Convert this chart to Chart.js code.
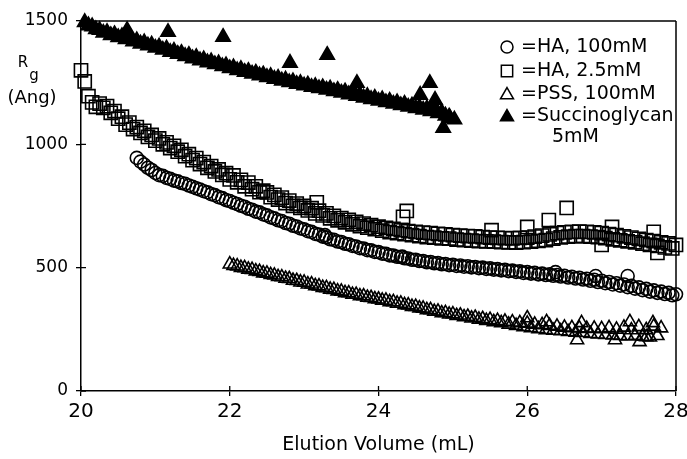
<!DOCTYPE html>
<html>
<head>
<meta charset="utf-8">
<script src="https://cdn.jsdelivr.net/npm/chart.js@4/dist/chart.umd.min.js"></script>
<style>
  html, body { margin: 0; padding: 0; background: #fff; }
  #wrap { width: 687px; height: 459px; }
</style>
</head>
<body>
<div id="wrap"><canvas id="chart" width="687" height="459"></canvas></div>
<script>
// Elution volume sampling grid (mL)
const volume = [
  20.00,20.05,20.10,20.15,20.20,20.25,20.30,20.35,20.40,20.45,
  20.50,20.55,20.60,20.65,20.70,20.75,20.80,20.85,20.90,20.95,
  21.00,21.05,21.10,21.15,21.20,21.25,21.30,21.35,21.40,21.45,
  21.50,21.55,21.60,21.65,21.70,21.75,21.80,21.85,21.90,21.95,
  22.00,22.05,22.10,22.15,22.20,22.25,22.30,22.35,22.40,22.45,
  22.50,22.55,22.60,22.65,22.70,22.75,22.80,22.85,22.90,22.95,
  23.00,23.05,23.10,23.15,23.20,23.25,23.30,23.35,23.40,23.45,
  23.50,23.55,23.60,23.65,23.70,23.75,23.80,23.85,23.90,23.95,
  24.00,24.05,24.10,24.15,24.20,24.25,24.30,24.35,24.40,24.45,
  24.50,24.55,24.60,24.65,24.70,24.75,24.80,24.85,24.90,24.95,
  25.00,25.05,25.10,25.15,25.20,25.25,25.30,25.35,25.40,25.45,
  25.50,25.55,25.60,25.65,25.70,25.75,25.80,25.85,25.90,25.95,
  26.00,26.05,26.10,26.15,26.20,26.25,26.30,26.35,26.40,26.45,
  26.50,26.55,26.60,26.65,26.70,26.75,26.80,26.85,26.90,26.95,
  27.00,27.05,27.10,27.15,27.20,27.25,27.30,27.35,27.40,27.45,
  27.50,27.55,27.60,27.65,27.70,27.75,27.80,27.85,27.90,27.95,
  28.00
];

// HA, 2.5 mM: Rg (Angstrom), starting at volume[0]
const haLowStart = 0;
const haLowRg = [
  1300,1255,1195,1170,1152,1165,1148,1155,1128,1135,
  1104,1112,1080,1088,1062,1070,1046,1055,1030,1038,
  1015,1024,1000,1008,985,994,970,978,952,960,
  936,944,920,928,905,912,890,898,876,883,
  858,874,846,856,830,845,818,830,806,812,
  805,786,795,776,784,762,772,751,760,742,
  750,732,741,720,731,712,720,700,710,692,
  701,684,694,676,686,668,679,662,672,656,
  666,650,661,644,657,640,652,636,648,632,
  645,628,642,624,640,622,637,619,635,618,
  632,614,630,612,628,610,627,608,624,607,
  622,606,621,604,620,603,619,602,621,604,
  622,606,626,609,630,612,635,618,640,623,
  643,626,645,628,646,628,645,626,643,624,
  640,620,636,615,632,611,627,607,622,603,
  617,597,612,592,608,588,603,582,598,578,
  592
];
const haLowExtraVol = [23.17, 24.38, 24.33, 25.52, 26.00, 26.29, 26.53, 27.14, 27.70, 27.00, 27.75];
const haLowExtraRg  = [765, 730, 706, 652, 665, 693, 742, 665, 645, 592, 560];

// HA, 100 mM: Rg (Angstrom), starting at volume[15]
const haHighStart = 15;
const haHighRg = [
  945,930,918,905,896,
  884,875,872,864,860,853,850,843,840,833,
  828,822,817,810,806,798,794,786,782,774,
  770,763,758,751,747,739,735,727,724,716,
  712,704,700,692,689,681,678,670,667,659,
  656,648,645,637,634,626,623,615,613,606,
  604,597,595,588,586,579,578,571,570,564,
  563,557,556,550,549,544,543,538,537,532,
  532,527,527,522,523,518,519,514,515,510,
  512,507,509,504,506,501,503,498,500,495,
  497,492,494,489,491,486,488,483,485,479,
  482,476,479,473,476,470,473,467,470,464,
  467,460,463,456,459,452,455,447,451,442,
  447,437,442,432,437,427,432,421,426,415,
  420,409,414,403,408,398,403,393,398,388,
  392
];
const haHighExtraVol = [23.28, 24.32, 26.38, 26.92, 27.35];
const haHighExtraRg  = [632, 545, 482, 466, 466];

// PSS, 100 mM: Rg (Angstrom), starting at volume[40]
const pssStart = 40;
const pssRg = [
  514,508,506,500,499,493,492,486,484,478,
  477,471,469,463,462,456,455,448,447,441,
  440,433,433,426,425,419,418,412,411,405,
  404,398,397,391,391,385,385,379,378,373,
  372,367,367,361,361,355,355,349,348,342,
  342,336,335,329,329,322,323,316,317,311,
  312,305,307,300,302,295,298,290,293,285,
  289,280,285,276,282,270,279,265,276,260,
  274,256,270,252,268,248,265,245,262,243,
  258,240,256,237,255,236,253,232,254,230,
  252,228,256,226,250,224,258,222,247,225,
  260,221,248,218,262,224,255
];
const pssExtraVol = [26.00, 26.26, 26.73, 27.38, 27.69, 26.67, 27.18, 27.51, 27.60];
const pssExtraRg  = [296, 280, 276, 280, 276, 207, 207, 199, 219];

// Succinoglycan, 5 mM: Rg (Angstrom), starting at volume[1]
const succStart = 1;
const succRg = [
  1495,1482,1478,1466,1463,1452,1455,1442,1446,
  1434,1438,1426,1430,1417,1421,1408,1413,1400,1404,
  1391,1396,1383,1388,1374,1379,1366,1370,1357,1362,
  1348,1353,1340,1344,1332,1336,1324,1328,1316,1320,
  1308,1312,1300,1305,1293,1297,1286,1290,1279,1283,
  1272,1276,1265,1269,1258,1262,1251,1255,1244,1248,
  1238,1242,1232,1236,1227,1231,1221,1226,1215,1220,
  1209,1214,1202,1208,1196,1201,1189,1195,1183,1188,
  1176,1182,1170,1176,1164,1170,1158,1164,1152,1157,
  1146,1151,1140,1145,1134,1138,1126,1130,1116,1112
];
const succExtraVol = [20.62, 21.17, 21.91, 22.81, 23.31, 23.71, 24.69, 24.56, 24.76, 24.87, 24.96, 25.02];
const succExtraRg  = [1463, 1455, 1435, 1330, 1362, 1248, 1248, 1200, 1180, 1066, 1107, 1100];

// Axis ticks
const volumeTicks = [20, 22, 24, 26, 28];
const rgTicks = [0, 500, 1000, 1500];

// Legend entries
const legendLabels = ['=HA, 100mM', '=HA, 2.5mM', '=PSS, 100mM', '=Succinoglycan'];
const legendNote = '5mM';

function toPoints(start, values, extraVol, extraRg) {
  const pts = values.map((rg, i) => ({ x: volume[start + i], y: rg }));
  extraVol.forEach((v, i) => pts.push({ x: v, y: extraRg[i] }));
  return pts;
}

const FONT = "'DejaVu Sans', 'Liberation Sans', sans-serif";

function drawMarker(ctx, style, x, y, r, filled) {
  ctx.beginPath();
  if (style === 'circle') {
    ctx.arc(x, y, r, 0, Math.PI * 2);
  } else if (style === 'rect') {
    const s = r * Math.SQRT1_2;
    ctx.rect(x - s, y - s, 2 * s, 2 * s);
  } else {
    ctx.moveTo(x, y - r);
    ctx.lineTo(x + r * Math.sin(Math.PI * 2 / 3), y - r * Math.cos(Math.PI * 2 / 3));
    ctx.lineTo(x + r * Math.sin(Math.PI * 4 / 3), y - r * Math.cos(Math.PI * 4 / 3));
    ctx.closePath();
  }
  ctx.fillStyle = filled ? '#000' : '#fff';
  ctx.fill();
  ctx.lineWidth = 1.5;
  ctx.strokeStyle = '#000';
  ctx.stroke();
}

// Frame, crossing tick marks, axis label and in-plot legend
const decorations = {
  id: 'decorations',
  afterDraw(chart) {
    const { ctx, chartArea: a, scales } = chart;
    ctx.save();
    ctx.strokeStyle = '#000';
    ctx.lineWidth = 1.5;
    ctx.beginPath();
    ctx.moveTo(a.left, a.top); ctx.lineTo(a.right, a.top);
    ctx.moveTo(a.right, a.top); ctx.lineTo(a.right, a.bottom);
    ctx.stroke();
    // inner halves of the tick marks
    ctx.lineWidth = 1.3;
    ctx.beginPath();
    volumeTicks.forEach(v => {
      const px = scales.x.getPixelForValue(v);
      ctx.moveTo(px, a.bottom); ctx.lineTo(px, a.bottom - 5);
    });
    rgTicks.forEach(v => {
      const py = scales.y.getPixelForValue(v);
      ctx.moveTo(a.left, py); ctx.lineTo(a.left + 5, py);
    });
    ctx.stroke();

    // y axis label: R with subscript g, then unit
    ctx.fillStyle = '#000';
    ctx.textAlign = 'center';
    ctx.textBaseline = 'middle';
    ctx.font = '15px ' + FONT;
    ctx.fillText('R', 23, 63);
    ctx.fillText('g', 34, 76);
    ctx.font = '18px ' + FONT;
    ctx.fillText('(Ang)', 32, 98);

    // legend, clipped by the frame
    ctx.save();
    ctx.beginPath();
    ctx.rect(a.left, a.top, a.right - a.left, a.bottom - a.top);
    ctx.clip();
    const styles = [['circle', 6, false], ['rect', 8, false], ['triangle', 7.5, false], ['triangle', 7.5, true]];
    const rows = [47, 71, 94, 116];
    ctx.font = '19px ' + FONT;
    ctx.textAlign = 'left';
    ctx.textBaseline = 'middle';
    legendLabels.forEach((label, i) => {
      const [st, r, f] = styles[i];
      drawMarker(ctx, st, 507, rows[i] + (st === 'triangle' ? 1 : 0), r, f);
      ctx.fillStyle = '#000';
      ctx.fillText(label, 521, rows[i]);
    });
    ctx.fillText(legendNote, 552, 137);
    ctx.restore();
    ctx.restore();
  }
};

const common = { showLine: false, clip: false, pointBorderColor: '#000', pointBorderWidth: 1.6, pointHoverRadius: 0 };

new Chart(document.getElementById('chart'), {
  type: 'scatter',
  data: {
    datasets: [
      Object.assign({ label: 'HA, 100mM', data: toPoints(haHighStart, haHighRg, haHighExtraVol, haHighExtraRg),
        pointStyle: 'circle', pointRadius: 6.5, pointBackgroundColor: 'rgba(255,255,255,0)' }, common),
      Object.assign({ label: 'HA, 2.5mM', data: toPoints(haLowStart, haLowRg, haLowExtraVol, haLowExtraRg),
        pointStyle: 'rect', pointRadius: 9.3, pointBackgroundColor: 'rgba(255,255,255,0)' }, common),
      Object.assign({ label: 'PSS, 100mM', data: toPoints(pssStart, pssRg, pssExtraVol, pssExtraRg),
        pointStyle: 'triangle', pointRadius: 7.5, pointBackgroundColor: 'rgba(255,255,255,0)' }, common),
      Object.assign({ label: 'Succinoglycan 5mM', data: toPoints(succStart, succRg, succExtraVol, succExtraRg),
        pointStyle: 'triangle', pointRadius: 8.3, pointBackgroundColor: '#000' }, common)
    ]
  },
  options: {
    responsive: false,
    animation: false,
    devicePixelRatio: 1,
    events: [],
    layout: { padding: { top: 21, right: 11, left: 0, bottom: 0 } },
    plugins: { legend: { display: false }, tooltip: { enabled: false } },
    scales: {
      x: {
        type: 'linear', min: 20, max: 28,
        afterBuildTicks(scale) { scale.ticks = volumeTicks.map(v => ({ value: v })); },
        afterFit(scale) { scale.height = 68; scale.paddingLeft = 0; scale.paddingRight = 0; },
        ticks: { color: '#000', font: { family: FONT, size: 20 }, padding: 4, maxRotation: 0,
                 callback: v => String(v) },
        grid: { drawOnChartArea: false, drawTicks: true, tickLength: 5, color: '#000', lineWidth: 1.3 },
        border: { display: true, color: '#000', width: 1.5 },
        title: { display: true, text: 'Elution Volume (mL)', color: '#000',
                 font: { family: FONT, size: 19 }, padding: { top: 0, bottom: 3 } }
      },
      y: {
        type: 'linear', min: 0, max: 1500,
        afterBuildTicks(scale) { scale.ticks = rgTicks.map(v => ({ value: v })); },
        afterFit(scale) { scale.width = 81; scale.paddingTop = 0; scale.paddingBottom = 0; },
        ticks: { color: '#000', font: { family: FONT, size: 17 }, padding: 8, callback: v => String(v) },
        grid: { drawOnChartArea: false, drawTicks: true, tickLength: 5, color: '#000', lineWidth: 1.3 },
        border: { display: true, color: '#000', width: 1.5 }
      }
    }
  },
  plugins: [decorations]
});
</script>
</body>
</html>
